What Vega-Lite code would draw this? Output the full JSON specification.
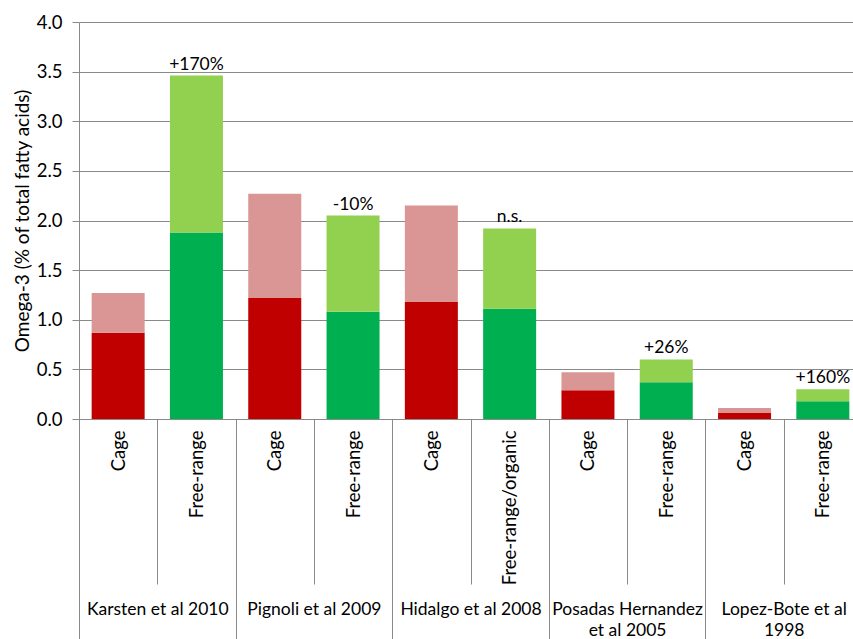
{
  "$schema": "https://vega.github.io/schema/vega-lite/v6.json",
  "width": 774,
  "height": 397,
  "autosize": {"type": "none"},
  "padding": {"left": 79, "top": 22, "right": 0, "bottom": 220},
  "background": "white",
  "config": {"view": {"stroke": null}, "font": "Lato"},
  "data": {
    "values": [
      {"key": "Karsten et al 2010|Cage", "series": "Cage lower", "segment": "lower", "value": 0.87, "note": null},
      {"key": "Karsten et al 2010|Cage", "series": "Cage upper", "segment": "upper", "value": 0.40, "note": null},
      {"key": "Karsten et al 2010|Free-range", "series": "Free-range lower", "segment": "lower", "value": 1.88, "note": "+170%"},
      {"key": "Karsten et al 2010|Free-range", "series": "Free-range upper", "segment": "upper", "value": 1.58, "note": "+170%"},
      {"key": "Pignoli et al 2009|Cage", "series": "Cage lower", "segment": "lower", "value": 1.22, "note": null},
      {"key": "Pignoli et al 2009|Cage", "series": "Cage upper", "segment": "upper", "value": 1.05, "note": null},
      {"key": "Pignoli et al 2009|Free-range", "series": "Free-range lower", "segment": "lower", "value": 1.08, "note": "-10%"},
      {"key": "Pignoli et al 2009|Free-range", "series": "Free-range upper", "segment": "upper", "value": 0.97, "note": "-10%"},
      {"key": "Hidalgo et al 2008|Cage", "series": "Cage lower", "segment": "lower", "value": 1.18, "note": null},
      {"key": "Hidalgo et al 2008|Cage", "series": "Cage upper", "segment": "upper", "value": 0.97, "note": null},
      {"key": "Hidalgo et al 2008|Free-range/organic", "series": "Free-range lower", "segment": "lower", "value": 1.11, "note": "n.s."},
      {"key": "Hidalgo et al 2008|Free-range/organic", "series": "Free-range upper", "segment": "upper", "value": 0.81, "note": "n.s."},
      {"key": "Posadas Hernandez et al 2005|Cage", "series": "Cage lower", "segment": "lower", "value": 0.29, "note": null},
      {"key": "Posadas Hernandez et al 2005|Cage", "series": "Cage upper", "segment": "upper", "value": 0.18, "note": null},
      {"key": "Posadas Hernandez et al 2005|Free-range", "series": "Free-range lower", "segment": "lower", "value": 0.37, "note": "+26%"},
      {"key": "Posadas Hernandez et al 2005|Free-range", "series": "Free-range upper", "segment": "upper", "value": 0.23, "note": "+26%"},
      {"key": "Lopez-Bote et al 1998|Cage", "series": "Cage lower", "segment": "lower", "value": 0.06, "note": null},
      {"key": "Lopez-Bote et al 1998|Cage", "series": "Cage upper", "segment": "upper", "value": 0.05, "note": null},
      {"key": "Lopez-Bote et al 1998|Free-range", "series": "Free-range lower", "segment": "lower", "value": 0.18, "note": "+160%"},
      {"key": "Lopez-Bote et al 1998|Free-range", "series": "Free-range upper", "segment": "upper", "value": 0.12, "note": "+160%"}
    ]
  },
  "layer": [
    {
      "mark": {"type": "bar", "width": {"band": 0.677}},
      "encoding": {
        "x": {
          "field": "key",
          "type": "nominal",
          "scale": {
            "domain": [
              "Karsten et al 2010|Cage", "Karsten et al 2010|Free-range",
              "Pignoli et al 2009|Cage", "Pignoli et al 2009|Free-range",
              "Hidalgo et al 2008|Cage", "Hidalgo et al 2008|Free-range/organic",
              "Posadas Hernandez et al 2005|Cage", "Posadas Hernandez et al 2005|Free-range",
              "Lopez-Bote et al 1998|Cage", "Lopez-Bote et al 1998|Free-range"
            ],
            "paddingInner": 0,
            "paddingOuter": 0,
            "range": [0, 783]
          },
          "axis": {
            "orient": "bottom",
            "title": null,
            "tickBand": "extent",
            "tickSize": 165,
            "tickColor": "#8a8a8a",
            "domainColor": "#8a8a8a",
            "labelAngle": -90,
            "labelPadding": -154,
            "labelFont": "Lato",
            "labelFontSize": 18.5,
            "labelColor": "black",
            "labelExpr": "isString(datum.value) ? split(datum.value, '|')[1] : ''"
          }
        },
        "y": {
          "field": "value",
          "type": "quantitative",
          "stack": "zero",
          "scale": {"domain": [0, 4]},
          "axis": {
            "title": "Omega-3 (% of total fatty acids)",
            "values": [0, 0.5, 1, 1.5, 2, 2.5, 3, 3.5, 4],
            "format": ".1f",
            "grid": true,
            "gridColor": "#8a8a8a",
            "domainColor": "#8a8a8a",
            "tickColor": "#8a8a8a",
            "tickSize": 7,
            "labelPadding": 10,
            "labelFont": "Lato",
            "labelFontSize": 18.5,
            "labelColor": "black",
            "titleFont": "Lato",
            "titleFontSize": 19,
            "titleFontWeight": "normal",
            "titleColor": "black",
            "titlePadding": 4
          }
        },
        "color": {
          "field": "series",
          "type": "nominal",
          "scale": {
            "domain": ["Cage lower", "Cage upper", "Free-range lower", "Free-range upper"],
            "range": ["#C00000", "#D99694", "#00B050", "#92D050"]
          },
          "legend": null
        },
        "order": {"field": "segment", "sort": "ascending"}
      }
    },
    {
      "transform": [{"filter": "datum.note != null"}],
      "mark": {"type": "text", "baseline": "alphabetic", "dy": -6, "font": "Lato", "fontSize": 17.5, "color": "black"},
      "encoding": {
        "x": {
          "field": "key",
          "type": "nominal",
          "axis": {
            "orient": "bottom",
            "title": null,
            "domain": false,
            "tickBand": "extent",
            "tickSize": 225,
            "tickColor": "#8a8a8a",
            "tickOpacity": {"condition": {"test": "datum.extra || (isString(datum.value) && !test(/[|]Cage$/, datum.value))", "value": 1}, "value": 0},
            "labelAngle": 0,
            "labelAlign": "center",
            "labelBaseline": "top",
            "labelOffset": 39.15,
            "labelPadding": -44,
            "labelFont": "Lato",
            "labelFontSize": 17.5,
            "labelLineHeight": 21,
            "labelColor": "black",
            "labelExpr": "!isString(datum.value) || !test(/[|]Cage$/, datum.value) ? '' : datum.value == 'Posadas Hernandez et al 2005|Cage' ? ['Posadas Hernandez', 'et al 2005'] : datum.value == 'Lopez-Bote et al 1998|Cage' ? ['Lopez-Bote et al', '1998'] : split(datum.value, '|')[0]"
          }
        },
        "y": {"aggregate": "sum", "field": "value", "type": "quantitative"},
        "text": {"field": "note"}
      }
    }
  ],
  "resolve": {"axis": {"x": "independent"}}
}
